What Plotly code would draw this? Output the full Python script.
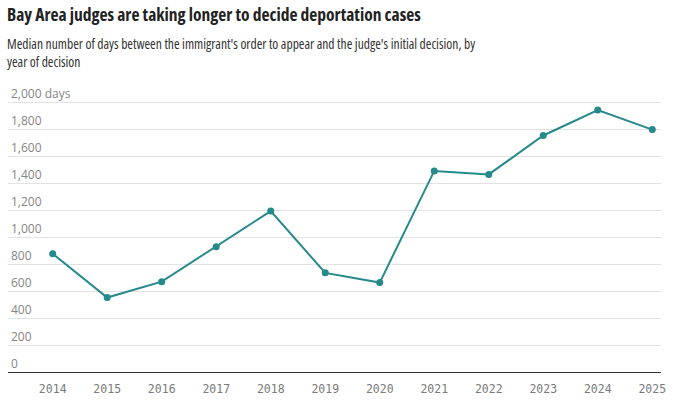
import plotly.graph_objects as go

years = [2014, 2015, 2016, 2017, 2018, 2019, 2020, 2021, 2022, 2023, 2024, 2025]
median_days = [878, 553, 671, 930, 1195, 736, 664, 1493, 1467, 1756, 1945, 1800]

y_ticks = [0, 200, 400, 600, 800, 1000, 1200, 1400, 1600, 1800, 2000]
y_ticktext = ["0", "200", "400", "600", "800", "1,000", "1,200", "1,400", "1,600", "1,800", "2,000 days"]

title_text = "Bay Area judges are taking longer to decide deportation cases"
subtitle_text = ("Median number of days between the immigrant's order to appear and the judge's initial decision, by"
                 "<br>year of decision")

teal = "#26898b"

fig = go.Figure()
fig.add_trace(go.Scatter(
    x=years, y=median_days, mode="lines+markers",
    line=dict(color=teal, width=2),
    marker=dict(color=teal, size=7),
    hoverinfo="x+y",
))

W, H = 699, 405
plot_bottom = 372.3
px_per_unit = 270 / 2000
y_top = 2220
plot_h = y_top * px_per_unit
t = plot_bottom - plot_h
b = H - plot_bottom
l, r = 8, 38
plot_w = W - l - r

def py(page_y):
    return (plot_bottom - page_y) / plot_h

def px(page_x):
    return (page_x - l) / plot_w

fig.update_layout(
    width=W, height=H,
    margin=dict(l=l, r=r, t=t, b=b, autoexpand=False),
    paper_bgcolor="white", plot_bgcolor="white",
    showlegend=False,
    xaxis=dict(
        range=[2013.18, 2025.16],
        tickmode="array", tickvals=years, ticktext=[str(y) for y in years],
        showgrid=False, zeroline=False,
        showline=True, linecolor="#333333", linewidth=1,
        ticks="outside", ticklen=6, tickcolor="rgba(0,0,0,0)",
        ticklabeloverflow="allow",
        tickfont=dict(family="DejaVu Sans Mono", size=11.5, color="#7a7a7a"),
        fixedrange=True,
    ),
    yaxis=dict(
        range=[0, y_top],
        tickmode="array", tickvals=y_ticks, ticktext=y_ticktext,
        ticklabelposition="inside top",
        ticklabeloverflow="allow",
        showgrid=True, gridcolor="#e2e2e2", gridwidth=1,
        zeroline=False, showline=False, ticks="",
        tickfont=dict(family="Open Sans", size=12, color="#858585"),
        fixedrange=True,
    ),
    annotations=[
        dict(text="<b>" + title_text + "</b>", xref="paper", yref="paper",
             x=px(5), y=py(13), xanchor="left", yanchor="middle",
             align="left", showarrow=False,
             font=dict(family="Open Sans", size=17.5, color="#222222")),
        dict(text=subtitle_text, xref="paper", yref="paper",
             x=px(5), y=py(52), xanchor="left", yanchor="middle",
             align="left", showarrow=False,
             font=dict(family="Open Sans", size=13.6, color="#333333")),
    ],
)

post = """
document.body.style.margin='0';
document.querySelectorAll('.annotation-text').forEach(function(e){e.style.fontStretch='75%';});
"""
fig.write_html("out.html", config={"displayModeBar": False}, post_script=post)
